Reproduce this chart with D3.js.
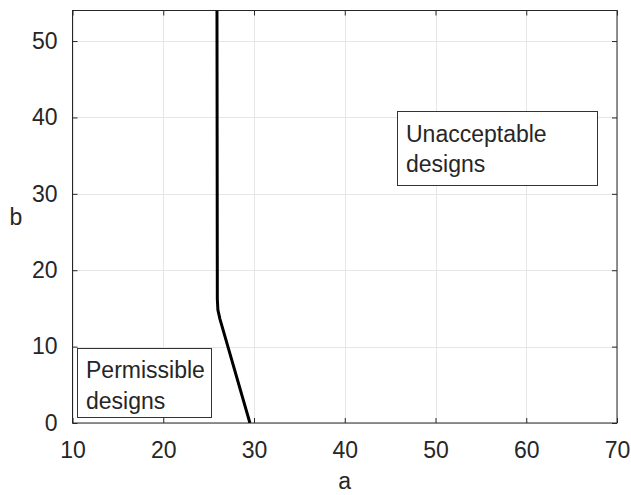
<!DOCTYPE html>
<html>
<head>
<meta charset="utf-8">
<script src="https://cdn.jsdelivr.net/npm/d3@7"></script>
<style>
  html, body { margin: 0; padding: 0; background: #fff; }
  svg { display: block; }
  text { font-family: "Liberation Sans", Arial, Helvetica, sans-serif; fill: #262626; }
</style>
</head>
<body>
<svg id="chart" width="631" height="495"></svg>
<script>
// ---- data ----
const boundaryA = [25.92, 25.96, 26.02, 26.25, 29.55];
const boundaryB = [54, 16.2, 14.8, 13.6, 0];
const xTicks = [10, 20, 30, 40, 50, 60, 70];
const yTicks = [0, 10, 20, 30, 40, 50];
const xDomain = [10, 70];
const yDomain = [0, 54];
const xLabel = "a";
const yLabel = "b";
const permissibleLines = ["Permissible", "designs"];
const unacceptableLines = ["Unacceptable", "designs"];

// ---- layout ----
const W = 631, H = 495;
const L = 72.5, R = 617, T = 10.5, B = 423;
const svg = d3.select("#chart");
const x = d3.scaleLinear().domain(xDomain).range([L, R]);
const y = d3.scaleLinear().domain(yDomain).range([B, T]);
const axisColor = "#262626";
const gridColor = "#e6e6e6";
const fs = 23;

// grid
const g = svg.append("g");
g.selectAll(".gx").data(xTicks).join("line")
  .attr("x1", d => Math.round(x(d)) + 0.5).attr("x2", d => Math.round(x(d)) + 0.5)
  .attr("y1", T).attr("y2", B).attr("stroke", gridColor).attr("stroke-width", 1);
g.selectAll(".gy").data(yTicks).join("line")
  .attr("y1", d => Math.round(y(d)) + 0.5).attr("y2", d => Math.round(y(d)) + 0.5)
  .attr("x1", L).attr("x2", R).attr("stroke", gridColor).attr("stroke-width", 1);

// axes with inward ticks
const tickLen = 5;
const bottomAxis = d3.axisBottom(x).tickValues(xTicks).tickSize(-tickLen).tickPadding(14 + tickLen);
const topAxis = d3.axisTop(x).tickValues(xTicks).tickSize(-tickLen).tickFormat("");
const leftAxis = d3.axisLeft(y).tickValues(yTicks).tickSize(-tickLen).tickPadding(10 + tickLen);
const rightAxis = d3.axisRight(y).tickValues(yTicks).tickSize(-tickLen).tickFormat("");

function styleAxis(sel) {
  sel.select(".domain").remove();
  sel.selectAll(".tick line").attr("stroke", axisColor);
  sel.selectAll(".tick text").attr("fill", axisColor)
    .style("font-size", fs + "px")
    .style("font-family", '"Liberation Sans", Arial, sans-serif');
}
svg.append("g").attr("transform", `translate(0,${B})`).call(bottomAxis).call(styleAxis);
svg.append("g").attr("transform", `translate(0,${T})`).call(topAxis).call(styleAxis);
svg.append("g").attr("transform", `translate(${L},0)`).call(leftAxis).call(styleAxis);
svg.append("g").attr("transform", `translate(${R},0)`).call(rightAxis).call(styleAxis);

// box frame
svg.append("rect").attr("x", L).attr("y", T).attr("width", R - L).attr("height", B - T)
  .attr("fill", "none").attr("stroke", axisColor).attr("stroke-width", 1);

// clip
svg.append("defs").append("clipPath").attr("id", "clip")
  .append("rect").attr("x", L).attr("y", T).attr("width", R - L).attr("height", B - T);

// boundary line
const pts = boundaryA.map((a, i) => [a, boundaryB[i]]);
svg.append("path").datum(pts)
  .attr("clip-path", "url(#clip)")
  .attr("d", d3.line().x(d => x(d[0])).y(d => y(d[1])).curve(d3.curveLinear))
  .attr("fill", "none").attr("stroke", "#000").attr("stroke-width", 3)
  .attr("stroke-linejoin", "round");

// text boxes (annotation placement in data coords)
function textBox(lines, bx0, bx1, by0, by1, tx, tyBaseline) {
  const gg = svg.append("g");
  gg.append("rect")
    .attr("x", Math.round(x(bx0)) + 0.5).attr("y", Math.round(y(by0)) + 0.5)
    .attr("width", Math.round(x(bx1) - x(bx0))).attr("height", Math.round(y(by1) - y(by0)))
    .attr("fill", "#fff").attr("stroke", "#333").attr("stroke-width", 1);
  const t = gg.append("text").attr("x", x(tx)).attr("y", y(tyBaseline))
    .style("font-size", fs + "px").attr("fill", "#000");
  lines.forEach((ln, i) => {
    t.append("tspan").attr("x", x(tx)).attr("dy", i === 0 ? 0 : 30.5).text(ln);
  });
}
textBox(permissibleLines, 10.53, 25.34, 9.85, 0.79, 11.49, 5.85);
textBox(unacceptableLines, 45.72, 67.8, 40.84, 31.19, 46.75, 36.82);

// axis labels
svg.append("text").attr("x", (L + R) / 2).attr("y", 489).attr("text-anchor", "middle")
  .style("font-size", fs + "px").text(xLabel);
svg.append("text").attr("x", 16).attr("y", 225).attr("text-anchor", "middle")
  .style("font-size", fs + "px").text(yLabel);
</script>
</body>
</html>
